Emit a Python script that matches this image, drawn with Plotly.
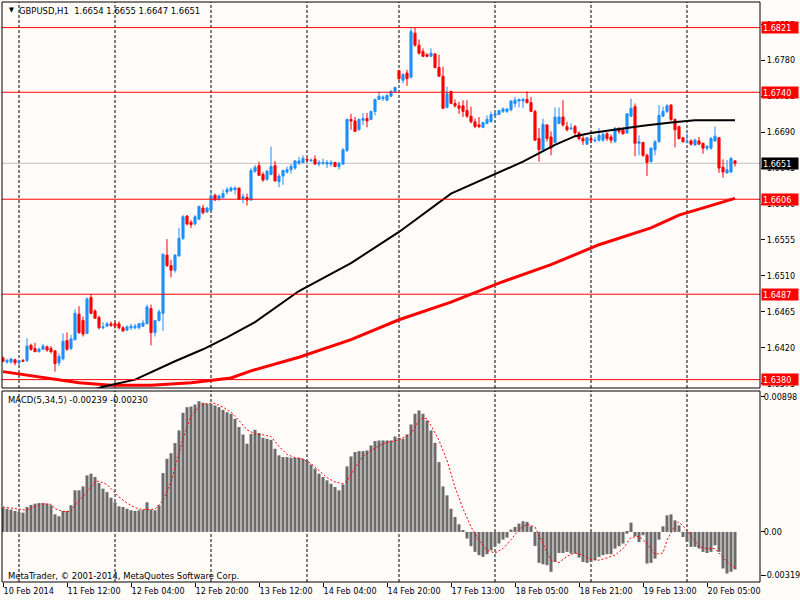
import plotly.graph_objects as go

# GBPUSD H1, one bar per hour, first bar 10 Feb 20:00
opens = [1.6407, 1.6402, 1.6402, 1.6405, 1.6401, 1.6404, 1.6404, 1.6423, 1.6419, 1.6415,
         1.6418, 1.6421, 1.6419, 1.6416, 1.6401, 1.6406, 1.6429, 1.6419, 1.6430, 1.6462,
         1.6454, 1.6438, 1.6483, 1.6466, 1.6458, 1.6445, 1.6447, 1.6450, 1.6450, 1.6450,
         1.6445, 1.6442, 1.6445, 1.6445, 1.6445, 1.6447, 1.6450, 1.6469, 1.6439, 1.6454,
         1.6463, 1.6536, 1.6523, 1.6517, 1.6535, 1.6557, 1.6585, 1.6577, 1.6575, 1.6581,
         1.6595, 1.6590, 1.6592, 1.6611, 1.6606, 1.6608, 1.6615, 1.6617, 1.6618, 1.6620,
         1.6607, 1.6608, 1.6605, 1.6641, 1.6648, 1.6637, 1.6631, 1.6637, 1.6648, 1.6628,
         1.6635, 1.6640, 1.6643, 1.6645, 1.6651, 1.6652, 1.6656, 1.6654, 1.6656, 1.6650,
         1.6651, 1.6650, 1.6650, 1.6652, 1.6647, 1.6650, 1.6667, 1.6706, 1.6704, 1.6693,
         1.6705, 1.6707, 1.6706, 1.6716, 1.6731, 1.6732, 1.6730, 1.6735, 1.6741, 1.6767,
         1.6755, 1.6764, 1.6759, 1.6814, 1.6799, 1.6791, 1.6787, 1.6785, 1.6788, 1.6771,
         1.6760, 1.6721, 1.6741, 1.6726, 1.6723, 1.6723, 1.6717, 1.6710, 1.6703, 1.6699,
         1.6696, 1.6701, 1.6703, 1.6711, 1.6712, 1.6716, 1.6716, 1.6718, 1.6726, 1.6729,
         1.6729, 1.6731, 1.6727, 1.6716, 1.6682, 1.6668, 1.6699, 1.6684, 1.6677, 1.6701,
         1.6709, 1.6697, 1.6694, 1.6697, 1.6689, 1.6682, 1.6675, 1.6682, 1.6679, 1.6680,
         1.6680, 1.6688, 1.6684, 1.6678, 1.6695, 1.6693, 1.6689, 1.6710, 1.6722, 1.6676,
         1.6677, 1.6661, 1.6653, 1.6668, 1.6678, 1.6710, 1.6716, 1.6724, 1.6706, 1.6697,
         1.6683, 1.6677, 1.6679, 1.6674, 1.6679, 1.6676, 1.6670, 1.6670, 1.6679, 1.6683,
         1.6646, 1.6639, 1.6640, 1.6654]
highs = [1.6409, 1.6406, 1.6406, 1.6406, 1.6405, 1.6406, 1.6432, 1.6425, 1.6426, 1.6420,
         1.6425, 1.6423, 1.6422, 1.6417, 1.6413, 1.6438, 1.6439, 1.6436, 1.6468, 1.6472,
         1.6459, 1.6483, 1.6487, 1.6468, 1.6460, 1.6452, 1.6452, 1.6453, 1.6452, 1.6453,
         1.6447, 1.6448, 1.6450, 1.6450, 1.6451, 1.6455, 1.6474, 1.6474, 1.6455, 1.6468,
         1.6538, 1.6556, 1.6530, 1.6537, 1.6570, 1.6586, 1.6586, 1.6580, 1.6586, 1.6598,
         1.6599, 1.6596, 1.6617, 1.6613, 1.6612, 1.6618, 1.6621, 1.6622, 1.6622, 1.6620,
         1.6613, 1.6613, 1.6645, 1.6649, 1.6653, 1.6640, 1.6643, 1.6672, 1.6654, 1.6638,
         1.6643, 1.6647, 1.6650, 1.6655, 1.6659, 1.6661, 1.6658, 1.6657, 1.6661, 1.6655,
         1.6657, 1.6655, 1.6655, 1.6653, 1.6653, 1.6670, 1.6707, 1.6713, 1.6709, 1.6707,
         1.6714, 1.6714, 1.6717, 1.6732, 1.6741, 1.6736, 1.6738, 1.6743, 1.6747, 1.6768,
         1.6764, 1.6768, 1.6820, 1.6821, 1.6806, 1.6795, 1.6789, 1.6795, 1.6789, 1.6787,
         1.6772, 1.6747, 1.6742, 1.6731, 1.6728, 1.6730, 1.6730, 1.6722, 1.6707, 1.6709,
         1.6703, 1.6711, 1.6716, 1.6714, 1.6718, 1.6721, 1.6720, 1.6730, 1.6734, 1.6732,
         1.6733, 1.6741, 1.6734, 1.6718, 1.6695, 1.6707, 1.6700, 1.6691, 1.6721, 1.6721,
         1.6730, 1.6703, 1.6701, 1.6699, 1.6691, 1.6686, 1.6684, 1.6684, 1.6684, 1.6695,
         1.6690, 1.6690, 1.6687, 1.6696, 1.6696, 1.6696, 1.6714, 1.6732, 1.6726, 1.6686,
         1.6678, 1.6663, 1.6671, 1.6680, 1.6724, 1.6722, 1.6725, 1.6725, 1.6707, 1.6698,
         1.6684, 1.6688, 1.6681, 1.6682, 1.6684, 1.6677, 1.6674, 1.6684, 1.6697, 1.6684,
         1.6656, 1.6655, 1.6659, 1.6655]
lows = [1.6402, 1.6400, 1.6400, 1.6398, 1.6398, 1.6402, 1.6402, 1.6416, 1.6415, 1.6414,
        1.6417, 1.6415, 1.6413, 1.6390, 1.6397, 1.6404, 1.6416, 1.6417, 1.6429, 1.6437,
        1.6434, 1.6437, 1.6462, 1.6456, 1.6443, 1.6443, 1.6446, 1.6446, 1.6444, 1.6443,
        1.6440, 1.6441, 1.6442, 1.6443, 1.6443, 1.6446, 1.6450, 1.6423, 1.6434, 1.6453,
        1.6441, 1.6521, 1.6508, 1.6514, 1.6534, 1.6555, 1.6573, 1.6570, 1.6573, 1.6580,
        1.6587, 1.6589, 1.6592, 1.6604, 1.6604, 1.6607, 1.6612, 1.6615, 1.6612, 1.6605,
        1.6601, 1.6598, 1.6604, 1.6639, 1.6635, 1.6628, 1.6629, 1.6636, 1.6628, 1.6621,
        1.6624, 1.6638, 1.6638, 1.6643, 1.6649, 1.6651, 1.6653, 1.6653, 1.6649, 1.6647,
        1.6649, 1.6645, 1.6647, 1.6646, 1.6643, 1.6649, 1.6665, 1.6693, 1.6690, 1.6692,
        1.6699, 1.6696, 1.6705, 1.6711, 1.6730, 1.6729, 1.6729, 1.6734, 1.6739, 1.6755,
        1.6751, 1.6748, 1.6757, 1.6797, 1.6787, 1.6784, 1.6784, 1.6785, 1.6770, 1.6760,
        1.6719, 1.6720, 1.6725, 1.6721, 1.6713, 1.6709, 1.6708, 1.6701, 1.6695, 1.6695,
        1.6695, 1.6700, 1.6702, 1.6710, 1.6712, 1.6714, 1.6714, 1.6716, 1.6721, 1.6721,
        1.6720, 1.6726, 1.6715, 1.6679, 1.6653, 1.6666, 1.6678, 1.6661, 1.6676, 1.6700,
        1.6697, 1.6691, 1.6693, 1.6684, 1.6680, 1.6674, 1.6674, 1.6676, 1.6677, 1.6678,
        1.6678, 1.6679, 1.6676, 1.6677, 1.6688, 1.6687, 1.6688, 1.6709, 1.6660, 1.6661,
        1.6659, 1.6635, 1.6652, 1.6661, 1.6677, 1.6709, 1.6714, 1.6704, 1.6671, 1.6681,
        1.6677, 1.6676, 1.6673, 1.6673, 1.6674, 1.6663, 1.6667, 1.6668, 1.6678, 1.6639,
        1.6633, 1.6638, 1.6639, 1.6647]
closes = [1.6403, 1.6404, 1.6406, 1.6401, 1.6404, 1.6403, 1.6422, 1.6418, 1.6415, 1.6418,
          1.6422, 1.6417, 1.6415, 1.6400, 1.6409, 1.6428, 1.6418, 1.6431, 1.6463, 1.6439,
          1.6437, 1.6481, 1.6463, 1.6457, 1.6445, 1.6446, 1.6450, 1.6448, 1.6447, 1.6445,
          1.6441, 1.6446, 1.6447, 1.6447, 1.6450, 1.6451, 1.6471, 1.6439, 1.6454, 1.6465,
          1.6537, 1.6523, 1.6517, 1.6536, 1.6557, 1.6584, 1.6575, 1.6574, 1.6584, 1.6597,
          1.6589, 1.6595, 1.6610, 1.6605, 1.6610, 1.6613, 1.6618, 1.6620, 1.6620, 1.6606,
          1.6609, 1.6605, 1.6642, 1.6646, 1.6636, 1.6630, 1.6641, 1.6647, 1.6629, 1.6635,
          1.6642, 1.6643, 1.6647, 1.6654, 1.6654, 1.6657, 1.6655, 1.6655, 1.6650, 1.6652,
          1.6652, 1.6652, 1.6652, 1.6647, 1.6651, 1.6668, 1.6706, 1.6704, 1.6691, 1.6706,
          1.6707, 1.6704, 1.6716, 1.6731, 1.6735, 1.6734, 1.6736, 1.6741, 1.6746, 1.6757,
          1.6762, 1.6757, 1.6816, 1.6799, 1.6789, 1.6785, 1.6785, 1.6789, 1.6771, 1.6760,
          1.6720, 1.6738, 1.6726, 1.6723, 1.6720, 1.6716, 1.6710, 1.6703, 1.6697, 1.6697,
          1.6702, 1.6706, 1.6712, 1.6713, 1.6717, 1.6719, 1.6719, 1.6729, 1.6730, 1.6731,
          1.6731, 1.6727, 1.6716, 1.6680, 1.6668, 1.6700, 1.6682, 1.6670, 1.6709, 1.6709,
          1.6699, 1.6693, 1.6695, 1.6689, 1.6682, 1.6679, 1.6683, 1.6680, 1.6680, 1.6686,
          1.6687, 1.6682, 1.6680, 1.6695, 1.6691, 1.6688, 1.6713, 1.6720, 1.6676, 1.6678,
          1.6661, 1.6652, 1.6670, 1.6678, 1.6711, 1.6716, 1.6723, 1.6706, 1.6693, 1.6682,
          1.6678, 1.6678, 1.6675, 1.6680, 1.6675, 1.6670, 1.6672, 1.6682, 1.6685, 1.6645,
          1.6640, 1.6643, 1.6657, 1.6651]

# MACD(5,34,5) histogram and signal
macd_main = [0.00155, 0.00148, 0.00142, 0.00134, 0.00127, 0.00123, 0.00159, 0.00172, 0.00180, 0.00184,
             0.00184, 0.00180, 0.00170, 0.00112, 0.00100, 0.00134, 0.00134, 0.00170, 0.00265, 0.00265,
             0.00290, 0.00360, 0.00371, 0.00350, 0.00312, 0.00276, 0.00254, 0.00218, 0.00189, 0.00163,
             0.00159, 0.00148, 0.00138, 0.00134, 0.00138, 0.00142, 0.00189, 0.00142, 0.00138, 0.00170,
             0.00375, 0.00466, 0.00502, 0.00566, 0.00647, 0.00759, 0.00795, 0.00799, 0.00812, 0.00833,
             0.00823, 0.00816, 0.00816, 0.00806, 0.00795, 0.00778, 0.00763, 0.00753, 0.00721, 0.00668,
             0.00621, 0.00562, 0.00625, 0.00651, 0.00630, 0.00600, 0.00594, 0.00587, 0.00530, 0.00488,
             0.00477, 0.00477, 0.00473, 0.00473, 0.00473, 0.00466, 0.00456, 0.00430, 0.00403, 0.00371,
             0.00350, 0.00329, 0.00307, 0.00286, 0.00265, 0.00303, 0.00418, 0.00481, 0.00509, 0.00515,
             0.00515, 0.00519, 0.00551, 0.00579, 0.00583, 0.00583, 0.00583, 0.00583, 0.00608, 0.00600,
             0.00594, 0.00621, 0.00685, 0.00753, 0.00774, 0.00753, 0.00710, 0.00647, 0.00568, 0.00445,
             0.00290, 0.00233, 0.00148, 0.00095, 0.00049, 0.00006, -0.00042, -0.00091, -0.00127, -0.00148,
             -0.00159, -0.00142, -0.00117, -0.00095, -0.00074, -0.00049, -0.00036, 0.00015, 0.00032, 0.00053,
             0.00068, 0.00064, 0.00036, -0.00089, -0.00197, -0.00206, -0.00212, -0.00254, -0.00191, -0.00134,
             -0.00134, -0.00127, -0.00138, -0.00138, -0.00163, -0.00191, -0.00197, -0.00191, -0.00180, -0.00159,
             -0.00148, -0.00142, -0.00142, -0.00106, -0.00091, -0.00074, -0.00011, 0.00059, -0.00028, -0.00064,
             -0.00021, -0.00201, -0.00197, -0.00170, -0.00049, 0.00036, 0.00106, 0.00112, 0.00074, 0.00042,
             -0.00032, -0.00064, -0.00095, -0.00095, -0.00106, -0.00127, -0.00134, -0.00127, -0.00085, -0.00127,
             -0.00233, -0.00265, -0.00254, -0.00239]
signal_idx = [0, 4, 6, 8, 10, 12, 13, 15, 17, 18, 21, 23, 24, 26, 28, 29, 31, 33, 34, 36,
              38, 40, 42, 43, 45, 47, 49, 50, 53, 55, 57, 59, 61, 63, 65, 67, 69, 71, 73, 75,
              77, 79, 81, 83, 85, 86, 88, 90, 92, 94, 96, 98, 100, 102, 103, 104, 105, 106, 107, 109,
              111, 113, 115, 117, 119, 121, 123, 125, 127, 129, 131, 133, 135, 137, 139, 141, 143, 145, 147, 149,
              151, 153, 155, 157, 159, 161, 163, 165, 166, 168, 169, 171, 173, 174, 176, 178, 179, 181, 183]
signal_val = [0.00159, 0.00148, 0.00138, 0.00163, 0.00180, 0.00176, 0.00148, 0.00131, 0.00131, 0.00170,
              0.00254, 0.00318, 0.00324, 0.00303, 0.00248, 0.00223, 0.00184, 0.00155, 0.00146, 0.00142,
              0.00146, 0.00201, 0.00318, 0.00413, 0.00594, 0.00736, 0.00799, 0.00816, 0.00820, 0.00795,
              0.00763, 0.00710, 0.00651, 0.00625, 0.00619, 0.00608, 0.00545, 0.00494, 0.00473, 0.00464,
              0.00435, 0.00392, 0.00346, 0.00318, 0.00307, 0.00324, 0.00410, 0.00481, 0.00515, 0.00551,
              0.00572, 0.00579, 0.00600, 0.00625, 0.00668, 0.00710, 0.00727, 0.00721, 0.00678, 0.00583,
              0.00456, 0.00286, 0.00148, 0.00032, -0.00053, -0.00117, -0.00134, -0.00106, -0.00049, 0.00015,
              0.00049, 0.00032, -0.00074, -0.00180, -0.00195, -0.00155, -0.00134, -0.00148, -0.00176, -0.00180,
              -0.00165, -0.00148, -0.00106, -0.00036, -0.00028, -0.00074, -0.00142, -0.00134, -0.00053, 0.00042,
              0.00064, 0.00011, -0.00057, -0.00095, -0.00106, -0.00106, -0.00134, -0.00191, -0.00230]

# moving averages (black = faster, red = slower)
ma_black_idx = [18, 25, 33, 43, 50, 56, 63, 74, 87, 99, 112, 123, 130, 138, 143, 147, 154, 160, 167, 173, 183]
ma_black = [1.6360, 1.6371, 1.6380, 1.6403, 1.6418, 1.6433, 1.6452, 1.6491, 1.6526, 1.6565, 1.6613,
            1.6638, 1.6653, 1.6674, 1.6685, 1.6689, 1.6694, 1.6698, 1.6702, 1.6705, 1.6705]
ma_red_idx = [0, 9, 19, 27, 37, 47, 57, 62, 74, 87, 99, 112, 124, 137, 149, 162, 169, 183]
ma_red = [1.6390, 1.6383, 1.6376, 1.6373, 1.6373, 1.6376, 1.6382, 1.6391, 1.6408, 1.6430,
          1.6455, 1.6477, 1.6501, 1.6524, 1.6549, 1.6570, 1.6586, 1.6607]

levels = [1.6821, 1.6740, 1.6606, 1.6487, 1.6380]
bid = 1.6651

price_ticks = [1.6375, 1.6420, 1.6465, 1.6510, 1.6555, 1.6600, 1.6645, 1.6690, 1.6735, 1.6780, 1.6825]
time_ticks = [0, 16, 32, 48, 64, 80, 96, 112, 128, 144, 160, 176]
time_labels = ["10 Feb 2014", "11 Feb 12:00", "12 Feb 04:00", "12 Feb 20:00", "13 Feb 12:00",
               "14 Feb 04:00", "14 Feb 20:00", "17 Feb 13:00", "18 Feb 05:00", "18 Feb 21:00",
               "19 Feb 13:00", "20 Feb 05:00"]
day_lines = [4, 28, 52, 76, 99, 123, 147, 171]

FONT = "DejaVu Sans Condensed, DejaVu Sans, sans-serif"
BG = "#FFFCFA"
TXT = 9.4   # header / footer text
TICK = 9    # axis labels
bars = list(range(len(closes)))


# pixel position -> paper coords (plot area is x 2..760, y 2..582)
def px(x):
    return (x - 2) / 758.0

def py(y):
    return (582 - y) / 580.0


fig = go.Figure()

fig.add_trace(go.Candlestick(
    x=bars, open=opens, high=highs, low=lows, close=closes,
    increasing=dict(line=dict(color="#1E90FF", width=1), fillcolor="#1E90FF"),
    decreasing=dict(line=dict(color="#FF0000", width=1), fillcolor="#FF0000"),
    hoverinfo="skip", showlegend=False, xaxis="x", yaxis="y"))

fig.add_trace(go.Scatter(x=ma_red_idx, y=ma_red, mode="lines",
                         line=dict(color="#FF0000", width=3),
                         hoverinfo="skip", showlegend=False, yaxis="y"))
fig.add_trace(go.Scatter(x=ma_black_idx, y=ma_black, mode="lines",
                         line=dict(color="#000000", width=2),
                         hoverinfo="skip", showlegend=False, yaxis="y"))

fig.add_trace(go.Bar(x=bars, y=macd_main, marker=dict(color="#6B6B6B", line=dict(width=0)),
                     hoverinfo="skip", showlegend=False, yaxis="y2"))
fig.add_trace(go.Scatter(x=signal_idx, y=signal_val, mode="lines",
                         line=dict(color="#FF0000", width=1, dash="2px,2px"),
                         hoverinfo="skip", showlegend=False, yaxis="y2"))

shapes = []
# daily separators
for d in day_lines:
    for yr in ["y domain", "y2 domain"]:
        shapes.append(dict(type="line", xref="x", yref=yr, x0=d, x1=d, y0=0, y1=1,
                           line=dict(color="black", width=1, dash="3px,2px"), layer="below"))
# levels
for lv in levels:
    shapes.append(dict(type="line", xref="x domain", yref="y", x0=0, x1=1, y0=lv, y1=lv,
                       line=dict(color="#FF0000", width=1), layer="above"))
shapes.append(dict(type="line", xref="x domain", yref="y", x0=0, x1=1, y0=bid, y1=bid,
                   line=dict(color="#C0C0C0", width=1), layer="below"))
# panel frames
for yr in ["y domain", "y2 domain"]:
    shapes.append(dict(type="rect", xref="x domain", yref=yr, x0=0, x1=1, y0=0, y1=1,
                       line=dict(color="black", width=1), layer="above"))

annotations = []
for lv in levels:
    annotations.append(dict(xref="paper", yref="y", x=1, y=lv, xanchor="left", yanchor="middle",
                            xshift=1, text="%.4f" % lv, showarrow=False, align="left",
                            bgcolor="#FF0000", font=dict(family=FONT, size=TICK, color="white"),
                            width=34, height=9, borderpad=1))
annotations.append(dict(xref="paper", yref="y", x=1, y=bid, xanchor="left", yanchor="middle",
                        xshift=1, text="%.4f" % bid, showarrow=False, align="left",
                        bgcolor="#000000", font=dict(family=FONT, size=TICK, color="white"),
                        width=34, height=9, borderpad=1))

annotations.append(dict(xref="paper", yref="paper", x=px(7), y=py(10), xanchor="left", yanchor="middle",
                        text="▼", showarrow=False, font=dict(family=FONT, size=7, color="black")))
annotations.append(dict(xref="paper", yref="paper", x=px(17), y=py(10), xanchor="left", yanchor="middle",
                        text="GBPUSD,H1  %.4f %.4f %.4f %.4f" % (opens[-1], highs[-1], lows[-1], closes[-1]),
                        showarrow=False, font=dict(family=FONT, size=TXT, color="black")))
annotations.append(dict(xref="paper", yref="paper", x=px(6), y=py(400), xanchor="left", yanchor="middle",
                        text="MACD(5,34,5) %.5f %.5f" % (macd_main[-1], signal_val[-1]),
                        showarrow=False, font=dict(family=FONT, size=TXT, color="black")))
annotations.append(dict(xref="paper", yref="paper", x=px(6), y=py(575), xanchor="left", yanchor="middle",
                        text="MetaTrader, © 2001-2014, MetaQuotes Software Corp.",
                        showarrow=False, font=dict(family=FONT, size=TXT, color="black")))

fig.update_layout(
    width=800, height=600,
    margin=dict(l=2, r=40, t=2, b=18, autoexpand=False),
    paper_bgcolor=BG, plot_bgcolor=BG,
    showlegend=False, hovermode=False,
    bargap=0.25, boxgap=0.25,
    font=dict(family=FONT, size=TICK, color="black"),
    shapes=shapes, annotations=annotations,
    xaxis=dict(domain=[0, 1], anchor="y2", range=[-0.25, 189.25], fixedrange=True,
               rangeslider=dict(visible=False), showgrid=False, zeroline=False,
               tickmode="array", tickvals=time_ticks, ticktext=time_labels, tickangle=0,
               ticks="outside", ticklen=4, tickcolor="black", automargin=False,
               ticklabelposition="outside right", tickfont=dict(size=TICK)),
    yaxis=dict(domain=[0.3345, 1], anchor="x", side="right", range=[1.636952, 1.685306],
               showgrid=False, zeroline=False, tickmode="array", tickvals=price_ticks,
               tickformat=".4f", ticks="outside", ticklen=4, tickcolor="black",
               tickfont=dict(size=TICK), automargin=False, fixedrange=True),
    yaxis2=dict(domain=[0, 0.3293], anchor="x", side="right", range=[-0.00319, 0.00898],
                showgrid=False, zeroline=False, tickmode="array",
                tickvals=[0.00860, 0, -0.00275], ticktext=["0.00898", "0.00", "-0.00319"],
                ticks="outside", ticklen=4, tickcolor="black", tickfont=dict(size=TICK),
                ticklabelstandoff=-3, automargin=False, fixedrange=True),
)

fig.write_html("out.html", config={"displayModeBar": False},
               post_script="document.body.style.margin='0';")
